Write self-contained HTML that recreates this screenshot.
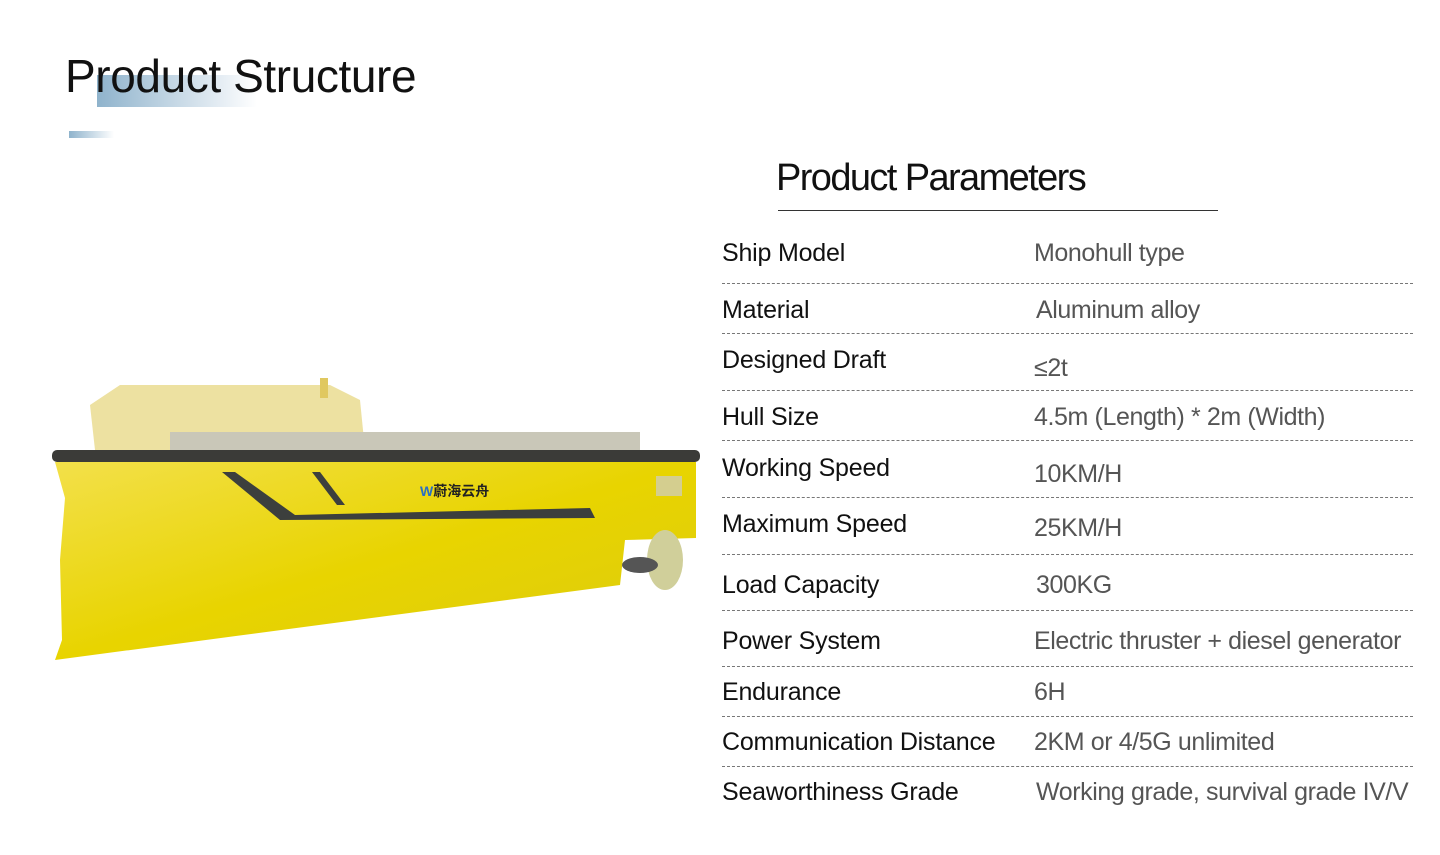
<!DOCTYPE html>
<html><head><meta charset="utf-8"><style>
body{margin:0;background:#fff;width:1440px;height:855px;overflow:hidden;position:relative;font-family:"Liberation Sans","Noto Sans CJK SC",sans-serif}
.a{position:absolute;white-space:nowrap}
.t{font-size:25px;letter-spacing:-0.2px;color:#111}
.v{font-size:25px;letter-spacing:-0.4px;color:#555}
.d{position:absolute;left:722px;width:691px;border-top:1px dashed #777}
</style></head><body>
<div class="a" style="left:97px;top:75px;width:160px;height:32px;background:linear-gradient(90deg,#8fb3cc,#e8eff5 80%,#fff)"></div>
<div class="a" style="left:69px;top:131px;width:45px;height:7px;background:linear-gradient(90deg,#8fb3cc,#fff)"></div>
<div class="a" style="left:65px;top:49px;font-size:46px;letter-spacing:-0.4px;color:#111">Product Structure</div>
<div class="a" style="left:776px;top:157px;font-size:38px;letter-spacing:-1.6px;color:#111">Product Parameters</div>
<div class="a" style="left:778px;top:210px;width:440px;height:1px;background:#333"></div>

<svg class="a" style="left:0;top:0" width="720" height="855">
<defs><linearGradient id="g" x1="0" y1="0" x2="1" y2="1"><stop offset="0" stop-color="#f3e04a"/><stop offset="0.5" stop-color="#e8d400"/><stop offset="1" stop-color="#dccb10"/></linearGradient></defs>
<path d="M90 405 L120 385 L330 385 L360 400 L365 450 L95 450 Z" fill="#e8d98a" opacity="0.8"/>
<rect x="320" y="378" width="8" height="20" fill="#e0c860"/>
<rect x="170" y="432" width="470" height="22" fill="#c9c7b8"/>
<path d="M65 498 L60 560 L62 640 L55 660 L620 585 L625 540 L696 538 L696 462 L55 462 Z" fill="url(#g)"/>
<rect x="52" y="450" width="648" height="12" rx="5" fill="#3b3b38"/>
<path d="M222 472 L235 472 L295 515 L590 508 L595 518 L280 520 Z" fill="#3c3f3d"/>
<path d="M312 472 L320 472 L345 505 L337 505 Z" fill="#3c3f3d"/>
<rect x="656" y="476" width="26" height="20" fill="#ccc" opacity="0.7"/>
<ellipse cx="665" cy="560" rx="18" ry="30" fill="#d0cf9a"/>
<ellipse cx="640" cy="565" rx="18" ry="8" fill="#555"/>
<text x="420" y="496" font-size="14" font-weight="bold" fill="#222" font-family="Liberation Sans,Noto Sans CJK SC,sans-serif"><tspan fill="#2a6fc4">W</tspan>蔚海云舟</text>
</svg>

<div class="a t" style="left:722px;top:239px">Ship Model</div><div class="a v" style="left:1034px;top:239px">Monohull type</div>
<div class="d" style="top:283px"></div>
<div class="a t" style="left:722px;top:296px">Material</div><div class="a v" style="left:1036px;top:296px">Aluminum alloy</div>
<div class="d" style="top:333px"></div>
<div class="a t" style="left:722px;top:346px">Designed Draft</div><div class="a v" style="left:1034px;top:354px">≤2t</div>
<div class="d" style="top:390px"></div>
<div class="a t" style="left:722px;top:403px">Hull Size</div><div class="a v" style="left:1034px;top:403px">4.5m (Length) * 2m (Width)</div>
<div class="d" style="top:440px"></div>
<div class="a t" style="left:722px;top:454px">Working Speed</div><div class="a v" style="left:1034px;top:460px">10KM/H</div>
<div class="d" style="top:497px"></div>
<div class="a t" style="left:722px;top:510px">Maximum Speed</div><div class="a v" style="left:1034px;top:514px">25KM/H</div>
<div class="d" style="top:554px"></div>
<div class="a t" style="left:722px;top:571px">Load Capacity</div><div class="a v" style="left:1036px;top:571px">300KG</div>
<div class="d" style="top:610px"></div>
<div class="a t" style="left:722px;top:627px">Power System</div><div class="a v" style="left:1034px;top:627px">Electric thruster + diesel generator</div>
<div class="d" style="top:666px"></div>
<div class="a t" style="left:722px;top:678px">Endurance</div><div class="a v" style="left:1034px;top:678px">6H</div>
<div class="d" style="top:716px"></div>
<div class="a t" style="left:722px;top:728px">Communication Distance</div><div class="a v" style="left:1034px;top:728px">2KM or 4/5G unlimited</div>
<div class="d" style="top:766px"></div>
<div class="a t" style="left:722px;top:778px">Seaworthiness Grade</div><div class="a v" style="left:1036px;top:778px">Working grade, survival grade IV/V</div>
</body></html>
